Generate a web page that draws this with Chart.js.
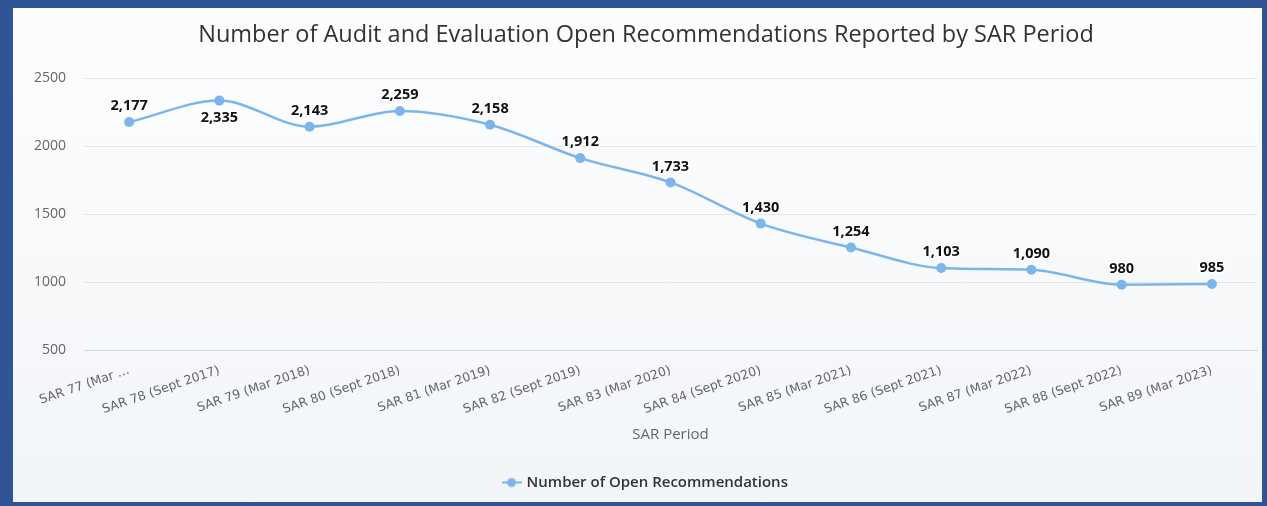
<!DOCTYPE html>
<html>
<head>
<meta charset="utf-8">
<script src="https://cdn.jsdelivr.net/npm/chart.js@4.4.1/dist/chart.umd.min.js"></script>
<style>
  html, body { margin: 0; padding: 0; }
  body { width: 1267px; height: 506px; background: #2f5597; position: relative; overflow: hidden; }
  #box {
    position: absolute; left: 13px; top: 8px; width: 1249px; height: 494px;
    background: linear-gradient(#fdfdfe, #f2f5f8);
  }
  #box canvas { display: block; }
</style>
</head>
<body>
<div id="box"><canvas id="openRecChart" width="1249" height="494"></canvas></div>
<script>
// chart data
const categories = [
  'SAR 77 (Mar 2017)', 'SAR 78 (Sept 2017)', 'SAR 79 (Mar 2018)', 'SAR 80 (Sept 2018)',
  'SAR 81 (Mar 2019)', 'SAR 82 (Sept 2019)', 'SAR 83 (Mar 2020)', 'SAR 84 (Sept 2020)',
  'SAR 85 (Mar 2021)', 'SAR 86 (Sept 2021)', 'SAR 87 (Mar 2022)', 'SAR 88 (Sept 2022)',
  'SAR 89 (Mar 2023)'
];
const openRecs = [2177, 2335, 2143, 2259, 2158, 1912, 1733, 1430, 1254, 1103, 1090, 980, 985];
const yTicks = [500, 1000, 1500, 2000, 2500];

const lineColor = '#7cb5ec';
const fontFamily = '"Open Sans", "Lucida Grande", "DejaVu Sans", sans-serif';
const wideFont = '"DejaVu Sans", "Lucida Grande", sans-serif';

// legend symbol: short line with a dot, like the original
const legendIcon = document.createElement('canvas');
legendIcon.width = 20; legendIcon.height = 12;
(function () {
    const c = legendIcon.getContext('2d');
    c.strokeStyle = lineColor; c.lineWidth = 2;
    c.beginPath(); c.moveTo(0, 6); c.lineTo(20, 6); c.stroke();
    c.fillStyle = lineColor;
    c.beginPath(); c.arc(10, 6, 4.5, 0, Math.PI * 2); c.fill();
})();

// value labels above each point (flipped below when too close to the top)
const valueLabels = {
    id: 'valueLabels',
    afterDatasetsDraw(chart) {
        const ctx = chart.ctx;
        const meta = chart.getDatasetMeta(0);
        const area = chart.chartArea;
        ctx.save();
        ctx.font = 'bold 14.5px ' + fontFamily;
        ctx.textAlign = 'center';
        ctx.textBaseline = 'middle';
        meta.data.forEach((pt, i) => {
            const txt = openRecs[i].toLocaleString('en-US');
            let y = pt.y - 16;
            if (y - 8 < area.top + 4) y = pt.y + 17;
            ctx.lineWidth = 3;
            ctx.strokeStyle = 'rgba(255,255,255,0.8)';
            ctx.strokeText(txt, pt.x, y);
            ctx.fillStyle = '#111';
            ctx.fillText(txt, pt.x, y);
        });
        ctx.restore();
    }
};

const ctx = document.getElementById('openRecChart').getContext('2d');
new Chart(ctx, {
    type: 'line',
    data: {
        labels: categories,
        datasets: [{
            label: 'Number of Open Recommendations',
            data: openRecs,
            borderColor: lineColor,
            backgroundColor: lineColor,
            borderWidth: 2.5,
            pointRadius: 5,
            pointHoverRadius: 5,
            pointBackgroundColor: lineColor,
            pointBorderWidth: 0,
            cubicInterpolationMode: 'monotone',
            fill: false
        }]
    },
    options: {
        responsive: false,
        animation: false,
        // left padding nudges title + legend right of centre, like the original
        layout: { padding: { left: 19, right: 2, top: 0, bottom: 2 } },
        plugins: {
            title: {
                display: true,
                text: 'Number of Audit and Evaluation Open Recommendations Reported by SAR Period',
                color: '#333333',
                font: { family: fontFamily, size: 23.5, weight: 'normal' },
                padding: { top: 13, bottom: 29 }
            },
            legend: {
                position: 'bottom',
                labels: {
                    color: '#333333',
                    font: { family: fontFamily, size: 15, weight: '600' },
                    usePointStyle: true,
                    padding: 10,
                    generateLabels(chart) {
                        const items = Chart.defaults.plugins.legend.labels.generateLabels(chart);
                        items.forEach(it => { it.pointStyle = legendIcon; });
                        return items;
                    }
                }
            },
            tooltip: { enabled: false }
        },
        scales: {
            x: {
                offset: true,
                grid: { display: false, drawTicks: false },
                border: { display: true, color: '#ccd6eb', width: 1 },
                ticks: {
                    color: '#666666',
                    font: { family: wideFont, size: 12.5 },
                    minRotation: 19,
                    maxRotation: 19,
                    autoSkip: false,
                    padding: 13,
                    callback: function (val, idx) {
                        const lbl = this.getLabelForValue(val);
                        return idx === 0 ? 'SAR 77 (Mar \u2026' : lbl;
                    }
                },
                title: {
                    display: true,
                    text: 'SAR Period',
                    color: '#666666',
                    font: { family: fontFamily, size: 15 },
                    padding: { top: 0, bottom: 21 }
                },
                afterFit(scale) { scale.height = 115; }
            },
            y: {
                min: 500,
                max: 2500,
                afterBuildTicks(scale) { scale.ticks = yTicks.map(v => ({ value: v })); },
                grid: { color: '#e6e6e6', drawTicks: false },
                border: { display: false },
                ticks: {
                    color: '#666666',
                    font: { family: fontFamily, size: 14 },
                    padding: 18,
                    callback: v => String(v)
                },
                afterFit(scale) { scale.width = 52; }
            }
        }
    },
    plugins: [valueLabels]
});
</script>
</body>
</html>
